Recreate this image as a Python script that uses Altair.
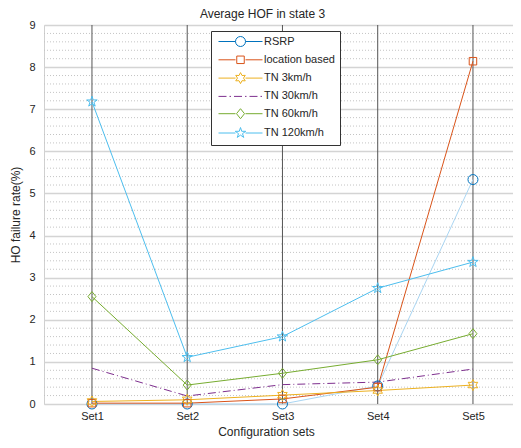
import math
import altair as alt
import pandas as pd

sets = ["Set1", "Set2", "Set3", "Set4", "Set5"]
series_names = ["RSRP", "location based", "TN 3km/h", "TN 30km/h", "TN 60km/h", "TN 120km/h"]
rsrp = [0.0, 0.0, 0.0, 0.43, 5.33]
location_based = [0.02, 0.02, 0.12, 0.40, 8.14]
tn_3 = [0.06, 0.10, 0.21, 0.32, 0.45]
tn_30 = [0.85, 0.19, 0.46, 0.52, 0.83]
tn_60 = [2.55, 0.45, 0.73, 1.05, 1.67]
tn_120 = [7.18, 1.11, 1.60, 2.75, 3.37]
y_ticks = [0, 1, 2, 3, 4, 5, 6, 7, 8, 9]
minor_ticks = [round(i * 0.2, 1) for i in range(46) if i % 5]

values = [rsrp, location_based, tn_3, tn_30, tn_60, tn_120]
rows = []
for name, vals in zip(series_names, values):
    for s, v in zip(sets, vals):
        rows.append({"series": name, "set": s, "value": v})
df = pd.DataFrame(rows)
df_minor = pd.DataFrame({"v": minor_ticks})
df_sets = pd.DataFrame({"set": sets})

colors = ["#0072BD", "#D95319", "#EDB120", "#7E2F8E", "#77AC30", "#4DBEEE"]
line_colors = ["#A9D5F2", "#D95319", "#EDB120", "#7E2F8E", "#77AC30", "#4DBEEE"]
dashes = [None, None, None, [8, 3, 1, 3], None, None]


def star(n, r_in, r_out=1.1):
    pts = []
    for k in range(2 * n):
        a = math.radians(-90 + k * 180 / n)
        r = r_out if k % 2 == 0 else r_in
        pts.append(f"{r*math.cos(a):.3f},{r*math.sin(a):.3f}")
    return "M" + "L".join(pts) + "Z"


circle_p = "M-1,0A1,1,0,1,0,1,0A1,1,0,1,0,-1,0"
square_p = "M-0.75,-0.75H0.75V0.75H-0.75Z"
diamond_p = "M0,-1L0.8,0L0,1L-0.8,0Z"
hexa_p = star(6, 0.6)
penta_p = star(5, 0.42)

marker_paths = [circle_p, square_p, hexa_p, None, diamond_p, penta_p]

line_stub = "M-4.4,0H-1M1,0H4.4"
dashdot = "M-4.4,0H-2.8M-2.2,0H-1.9M-1.3,0H0.3M0.9,0H1.2M1.8,0H3.4M4.0,0H4.3"
legend_paths = [
    line_stub + circle_p,
    line_stub + square_p,
    line_stub + hexa_p,
    dashdot,
    line_stub + diamond_p,
    line_stub + penta_p,
]

FONT = "Liberation Sans"
TXT = "#262626"

x_axis = alt.Axis(
    title="Configuration sets",
    labelAngle=0,
    labelAlign="center",
    labelFont=FONT,
    labelFontSize=11,
    labelColor=TXT,
    labelPadding=6,
    tickSize=0,
    domain=False,
    grid=False,
    titleFont=FONT,
    titleFontSize=12,
    titleFontWeight="normal",
    titleColor=TXT,
    titleX=222,
    titleY=22,
)
x_scale = alt.Scale(type="point", padding=0.462, align=0.545)

y_axis = alt.Axis(
    title="HO failure rate(%)",
    values=y_ticks,
    labelFont=FONT,
    labelFontSize=11,
    labelColor=TXT,
    labelPadding=9,
    tickSize=0,
    domain=False,
    grid=True,
    gridColor="#d4d4d4",
    gridWidth=1.3,
    titleFont=FONT,
    titleFontSize=12,
    titleFontWeight="normal",
    titleColor=TXT,
    titlePadding=6,
)
y_scale = alt.Scale(domain=[0, 9], nice=False)

minor = alt.Chart(df_minor).mark_rule(color="#c4c4c4", strokeDash=[1, 2], strokeWidth=1).encode(
    y=alt.Y("v:Q", scale=y_scale, axis=y_axis)
)

set_lines = alt.Chart(df_sets).mark_rule(color="#555555", strokeWidth=1).encode(
    x=alt.X("set:N", sort=sets, scale=x_scale, axis=x_axis)
)

layers = [minor, set_lines]
for i, name in enumerate(series_names):
    mk = {"strokeWidth": 1, "color": line_colors[i]}
    if dashes[i]:
        mk["strokeDash"] = dashes[i]
    layers.append(
        alt.Chart(df).transform_filter(alt.datum.series == name).mark_line(**mk).encode(
            x=alt.X("set:N", sort=sets, scale=x_scale, axis=x_axis),
            y=alt.Y("value:Q", scale=y_scale, axis=y_axis),
        )
    )

for i, name in enumerate(series_names):
    if marker_paths[i] is None:
        continue
    layers.append(
        alt.Chart(df).transform_filter(alt.datum.series == name).mark_point(
            filled=False, strokeWidth=1, size=100, opacity=1, shape=marker_paths[i], color=colors[i]
        ).encode(
            x=alt.X("set:N", sort=sets, scale=x_scale, axis=x_axis),
            y=alt.Y("value:Q", scale=y_scale, axis=y_axis),
        )
    )

leg = alt.Legend(
    title=None,
    orient="none",
    legendX=167,
    legendY=6,
    fillColor="white",
    strokeColor="#333333",
    padding=5,
    rowPadding=4.3,
    symbolSize=100,
    symbolStrokeWidth=1,
    symbolOffset=19,
    labelOffset=18,
    labelFont=FONT,
    labelFontSize=11,
    labelColor=TXT,
    labelExpr="datum.label + '" + "\u00a0" * 12 + "'",
    zindex=1,
)

legend_carrier = alt.Chart(df).transform_filter("false").mark_point(
    filled=False, strokeWidth=1, size=100, opacity=1
).encode(
    x=alt.X("set:N", sort=sets, scale=x_scale, axis=x_axis),
    y=alt.Y("value:Q", scale=y_scale, axis=y_axis),
    color=alt.Color("series:N", scale=alt.Scale(domain=series_names, range=colors), sort=series_names, legend=leg),
    shape=alt.Shape("series:N", scale=alt.Scale(domain=series_names, range=legend_paths), sort=series_names, legend=leg),
)
layers.append(legend_carrier)

chart = alt.layer(*layers).properties(
    width=469,
    height=379,
    autosize=alt.AutoSizeParams(type="none"),
    padding={"left": 36, "top": 17, "right": 0, "bottom": 36},
    title=alt.TitleParams(
        "Average HOF in state 3",
        font=FONT,
        fontSize=12,
        fontWeight="normal",
        color=TXT,
        offset=1,
        dy=3,
        dx=-16,
    ),
).configure_view(stroke="#d0d0d0", strokeWidth=1)

chart.save("out.html", embed_options={"renderer": "svg", "actions": False})
